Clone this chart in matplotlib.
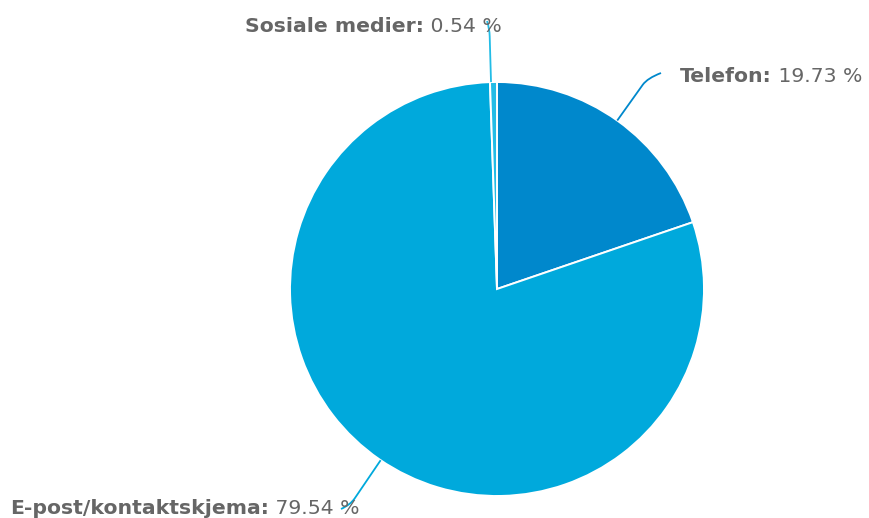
import numpy as np
import matplotlib
matplotlib.use("Agg")
import matplotlib.pyplot as plt
from matplotlib.path import Path
from matplotlib.patches import PathPatch

# Kontaktkanaler, andel i prosent
categories = ["Telefon", "E-post/kontaktskjema", "Sosiale medier"]
shares = [19.73, 79.54, 0.54]
value_labels = ["19.73 %", "79.54 %", "0.54 %"]
colors = ["#0088cc", "#00a9dc", "#22bce6"]

W, H = 869, 518
fig = plt.figure(figsize=(W / 100, H / 100), dpi=100)
ax = fig.add_axes([0, 0, 1, 1])

cx, cy, r = 497, 289, 207
# canvas uses a y-down pixel frame, so "clockwise from the top" becomes
# counter-clockwise from -90 degrees in data angles
wedges, _ = ax.pie(
    shares, colors=colors, startangle=-90, counterclock=True,
    center=(cx, cy), radius=r, frame=True,
    wedgeprops=dict(edgecolor="white", linewidth=1.4, antialiased=True),
)
ax.set_xlim(0, W)
ax.set_ylim(H, 0)
ax.set_aspect("equal")
ax.axis("off")

text_color = "#666666"
fs = 14.7
# label placement: (left x, baseline y), radial extension, end point of connector
layout = {
    "Telefon": dict(pos=(680, 82), ext=52, end=(661, 73)),
    "E-post/kontaktskjema": dict(pos=(10, 514), ext=54, end=(341, 509)),
    "Sosiale medier": dict(pos=(245, 32), ext=54, end=(487, 21)),
}

cum = 0.0
for name, share, vlab, col in zip(categories, shares, value_labels, colors):
    mid = 90 - (cum + share / 2) / 100 * 360
    cum += share
    a = np.deg2rad(mid)
    dx, dy = np.cos(a), -np.sin(a)  # y-down canvas
    p0 = (cx + r * dx, cy + r * dy)
    L = layout[name]
    corner = (cx + (r + L["ext"]) * dx, cy + (r + L["ext"]) * dy)
    pre = (corner[0] - 8 * dx, corner[1] - 8 * dy)
    verts = [p0, pre, corner, L["end"]]
    codes = [Path.MOVETO, Path.LINETO, Path.CURVE3, Path.CURVE3]
    ax.add_patch(PathPatch(Path(verts, codes), fill=False, edgecolor=col,
                           linewidth=1.3, zorder=3))
    t = ax.text(L["pos"][0], L["pos"][1], name + ":", fontsize=fs,
                fontweight="bold", color=text_color, ha="left",
                va="baseline", family="DejaVu Sans", zorder=4)
    ax.annotate(" " + vlab, xy=(1, 0), xycoords=t, fontsize=fs,
                color=text_color, ha="left", va="bottom",
                family="DejaVu Sans", zorder=4)

fig.savefig("out.png", dpi=100, facecolor="white")
